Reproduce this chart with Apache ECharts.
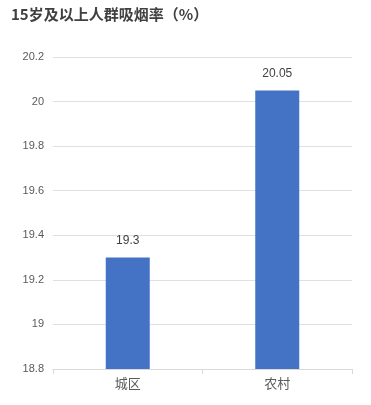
<!DOCTYPE html>
<html><head><meta charset="utf-8">
<script src="https://cdn.jsdelivr.net/npm/echarts@6/dist/echarts.min.js"></script>
<style>html,body{margin:0;padding:0;background:#fff}#c{width:371px;height:405px}</style>
</head><body><div id="c"></div>
<script>
var titleText = '15岁及以上人群吸烟率（%）';
var categories = ['城区', '农村'];
var values = [19.3, 20.05];
var yMin = 18.8, yMax = 20.2, yStep = 0.2;

var chart = echarts.init(document.getElementById('c'), null, {renderer: 'canvas'});
chart.setOption({
  animation: false,
  backgroundColor: '#fff',
  title: {
    text: titleText, left: 6, top: 2,
    textStyle: {fontFamily: '"Noto Sans CJK SC", sans-serif', fontSize: 15, fontWeight: 'bold', color: '#404040'}
  },
  grid: {left: 53, right: 19, top: 57, bottom: 36},
  xAxis: {
    type: 'category', data: categories,
    axisLine: {lineStyle: {color: '#d9d9d9'}},
    axisTick: {show: true, length: 5, lineStyle: {color: '#d9d9d9'}},
    axisLabel: {color: '#595959', fontSize: 13, margin: 8, fontFamily: '"Noto Sans CJK SC", sans-serif'}
  },
  yAxis: {
    type: 'value', min: yMin, max: yMax, interval: yStep,
    axisLine: {show: false}, axisTick: {show: false},
    splitLine: {lineStyle: {color: '#e0e0e0'}},
    axisLabel: {color: '#595959', fontSize: 11, margin: 9, fontFamily: '"Liberation Sans", sans-serif',
      formatter: function (v) { return String(Math.round(v * 10) / 10); }}
  },
  series: [{
    type: 'bar', data: values, barWidth: 44,
    itemStyle: {color: '#4472C4'},
    label: {show: true, position: 'top', distance: 11, color: '#404040', fontSize: 12,
      fontFamily: '"Liberation Sans", sans-serif'}
  }]
});
</script></body></html>
